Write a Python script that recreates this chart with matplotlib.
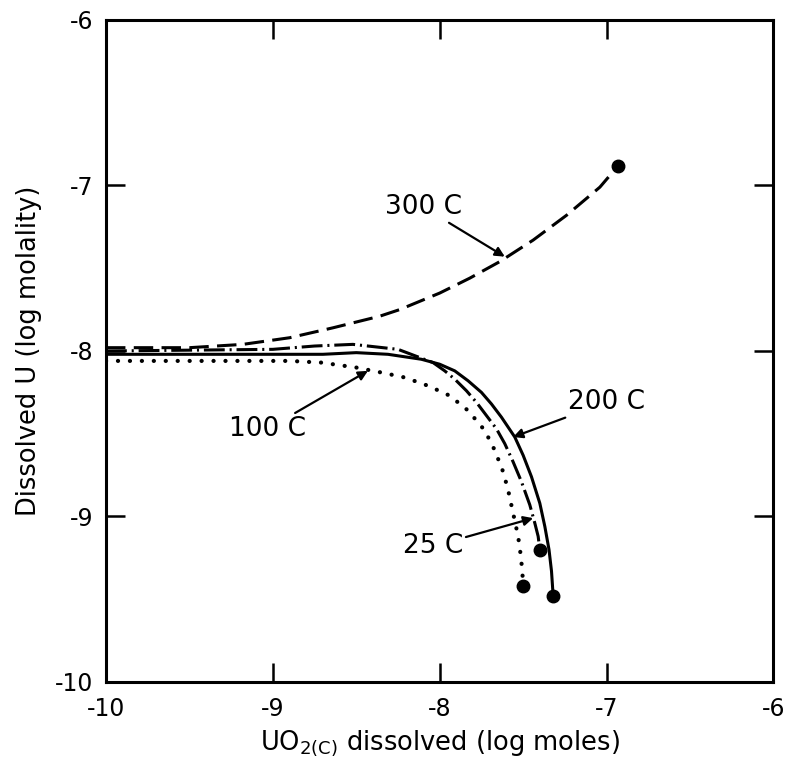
import numpy as np
import matplotlib
matplotlib.use("Agg")
import matplotlib.pyplot as plt

plt.rcParams['font.family'] = ['DejaVu Sans']
plt.rcParams['lines.scale_dashes'] = False

# curves: x = log moles UO2 dissolved, y = log molality U
x_300 = [-10.0, -9.5, -9.18, -8.90, -8.64, -8.36, -8.24, -8.0, -7.82, -7.64, -7.44, -7.24, -7.04, -6.93]
y_300 = [-7.98, -7.98, -7.96, -7.92, -7.86, -7.79, -7.75, -7.65, -7.56, -7.46, -7.33, -7.18, -7.01, -6.88]

x_200 = [-10.0, -9.0, -8.7, -8.5, -8.31, -8.11, -8.0, -7.91, -7.83, -7.75, -7.69, -7.63,
         -7.55, -7.50, -7.45, -7.40, -7.37, -7.345, -7.33, -7.32]
y_200 = [-8.02, -8.02, -8.02, -8.01, -8.02, -8.05, -8.08, -8.12, -8.18, -8.25, -8.32, -8.40,
         -8.52, -8.63, -8.76, -8.92, -9.06, -9.20, -9.33, -9.48]

x_25 = [-10.0, -9.0, -8.75, -8.52, -8.25, -8.04, -7.97, -7.91, -7.84, -7.78, -7.72, -7.66,
        -7.61, -7.56, -7.51, -7.46, -7.43, -7.41, -7.40]
y_25 = [-8.00, -7.99, -7.97, -7.96, -7.99, -8.07, -8.12, -8.17, -8.24, -8.31, -8.39, -8.47,
        -8.56, -8.67, -8.79, -8.93, -9.04, -9.12, -9.20]

x_100 = [-10.0, -9.2, -8.9, -8.71, -8.5, -8.35, -8.21, -8.07, -7.94, -7.83, -7.73, -7.67,
         -7.62, -7.59, -7.56, -7.53, -7.515, -7.505, -7.50]
y_100 = [-8.06, -8.06, -8.06, -8.07, -8.10, -8.13, -8.16, -8.21, -8.27, -8.36, -8.48, -8.60,
         -8.73, -8.84, -8.98, -9.12, -9.23, -9.33, -9.42]

ticks = [-10, -9, -8, -7, -6]
tick_labels = ['-10', '-9', '-8', '-7', '-6']

fig = plt.figure(figsize=(7.88, 7.72), dpi=100)
ax = fig.add_axes([0.1345, 0.1166, 0.847, 0.8575])

lw = 2.2
ax.plot(x_300, y_300, color='black', lw=lw, linestyle=(0, (14, 6)))
ax.plot(x_200, y_200, color='black', lw=lw)
ax.plot(x_25, y_25, color='black', lw=lw, linestyle=(0, (15, 3.5, 1.5, 3.5)))
ax.plot(x_100, y_100, color='black', lw=3, linestyle=(0, (0.1, 8.5)),
        dash_capstyle='round')

# end points
for xs, ys in [(x_300, y_300), (x_200, y_200), (x_25, y_25), (x_100, y_100)]:
    ax.plot(xs[-1], ys[-1], 'o', color='black', ms=9)

arrow = dict(arrowstyle='-|>', color='black', lw=1.6, mutation_scale=14,
             shrinkA=0, shrinkB=0)
ax.annotate('300 C', xy=(-7.61, -7.43), xytext=(-8.10, -7.13), fontsize=19,
            ha='center', va='center', arrowprops=arrow)
ax.annotate('200 C', xy=(-7.56, -8.52), xytext=(-7.0, -8.31), fontsize=19,
            ha='center', va='center', arrowprops=arrow)
ax.annotate('25 C', xy=(-7.44, -9.01), xytext=(-8.04, -9.18), fontsize=19,
            ha='center', va='center', arrowprops=arrow)
ax.annotate('100 C', xy=(-8.43, -8.12), xytext=(-9.03, -8.47), fontsize=19,
            ha='center', va='center', arrowprops=arrow)

ax.set_xlim(-10, -6)
ax.set_ylim(-10, -6)
ax.set_xticks(ticks)
ax.set_xticklabels(tick_labels)
ax.set_yticks(ticks)
ax.set_yticklabels(tick_labels)
ax.tick_params(direction='in', length=14, width=1.8, top=True, right=True,
               labelsize=17)
ax.tick_params(axis='x', pad=11)
ax.tick_params(axis='y', pad=9)
for s in ax.spines.values():
    s.set_linewidth(2.2)

ax.set_xlabel(r'UO$_{2\rm(C)}$ dissolved (log moles)', fontsize=18.5)
ax.set_ylabel('Dissolved U (log molality)', fontsize=18.5)
ax.xaxis.set_label_coords(0.5, -0.07)
ax.yaxis.set_label_coords(-0.096, 0.5)

fig.savefig('out.png', dpi=100)
